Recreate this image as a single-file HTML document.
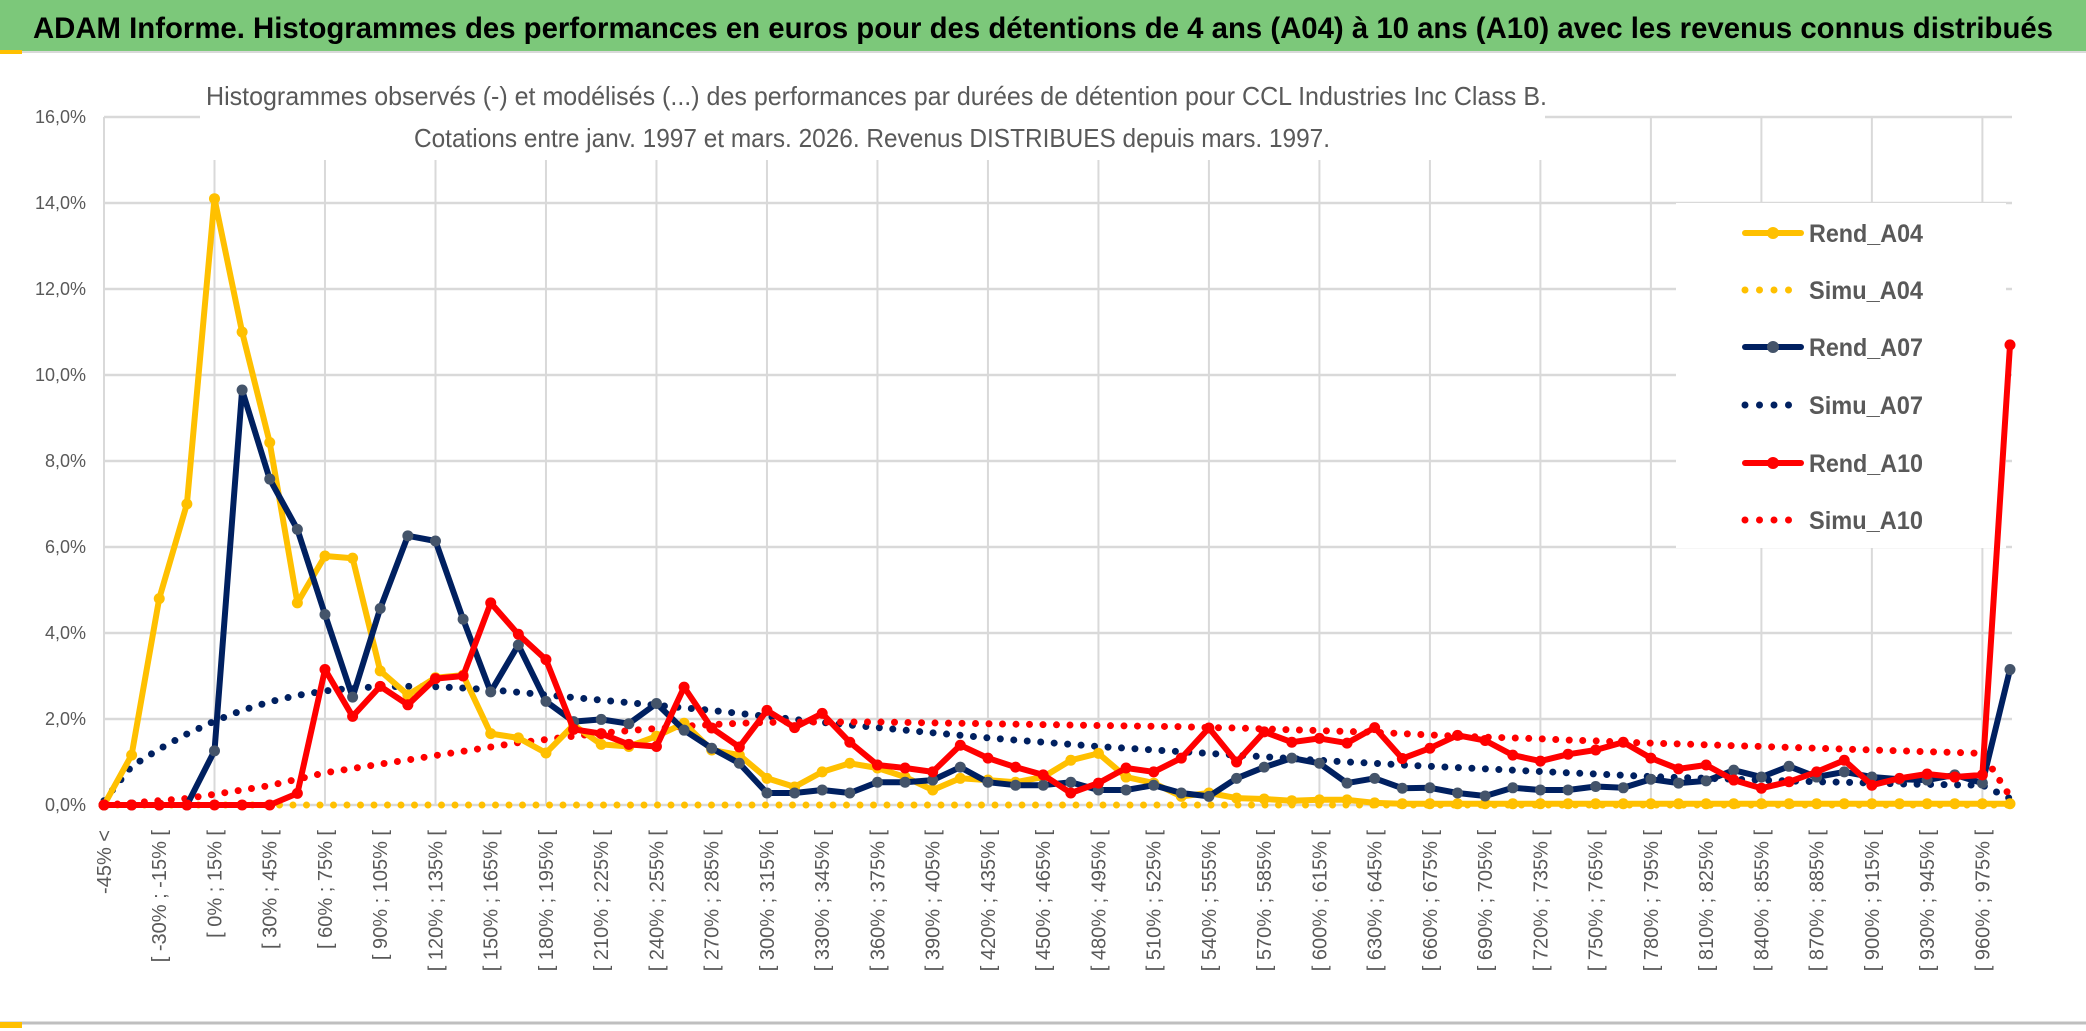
<!DOCTYPE html>
<html><head><meta charset="utf-8"><style>
html,body{margin:0;padding:0;background:#fff;}
svg{display:block;font-family:"Liberation Sans",sans-serif;}
</style></head><body>
<svg id="chart" width="2086" height="1031" viewBox="0 0 2086 1031" xmlns="http://www.w3.org/2000/svg">
<rect x="0" y="0" width="2086" height="1031" fill="#fff"/>
<rect x="0" y="0" width="2086" height="51" fill="#7cc87a"/>
<line x1="0" y1="52" x2="2086" y2="52" stroke="#d9d9d9" stroke-width="2"/>
<rect x="0" y="50" width="22" height="4" fill="#ffc000"/>
<text x="33" y="38" font-size="30" font-weight="bold" fill="#000" textLength="2020" lengthAdjust="spacingAndGlyphs">ADAM Informe. Histogrammes des performances en euros pour des détentions de 4 ans (A04) à 10 ans (A10) avec les revenus connus distribués</text>
<g id="grid"></g>
<rect x="200" y="72" width="1345" height="88" fill="#fff"/>
<text x="206" y="105" font-size="26" fill="#595959" textLength="1341" lengthAdjust="spacingAndGlyphs">Histogrammes observés (-) et modélisés (...) des performances par durées de détention pour CCL Industries Inc Class B.</text>
<text x="414" y="147" font-size="26" fill="#595959" textLength="916" lengthAdjust="spacingAndGlyphs">Cotations entre janv. 1997 et mars. 2026. Revenus DISTRIBUES depuis mars. 1997.</text>
<g id="legend"></g>
<g id="series"></g>
<line x1="0" y1="1023" x2="2086" y2="1023" stroke="#bfbfbf" stroke-width="3"/>
<rect x="0" y="1022" width="22" height="6" fill="#ffc000"/>
</svg>
<script>
const yTicks = [0,2,4,6,8,10,12,14,16];
const rendA04 = [0,1.16,4.8,7.0,14.1,11.0,8.43,4.7,5.79,5.74,3.12,2.56,2.96,3.02,1.66,1.56,1.21,1.86,1.41,1.36,1.6,1.9,1.28,1.16,0.62,0.42,0.77,0.97,0.86,0.65,0.35,0.62,0.58,0.53,0.65,1.04,1.2,0.65,0.51,0.2,0.28,0.16,0.14,0.1,0.12,0.12,0.05,0.03,0.03,0.03,0.03,0.03,0.03,0.03,0.03,0.03,0.03,0.03,0.03,0.03,0.03,0.03,0.03,0.03,0.03,0.03,0.03,0.03,0.03,0.03];
const simuA04 = [0,0,0,0,0,0,0,0,0,0,0,0,0,0,0,0,0,0,0,0,0,0,0,0,0,0,0,0,0,0,0,0,0,0,0,0,0,0,0,0,0,0,0,0,0,0,0,0,0,0,0,0,0,0,0,0,0,0,0,0,0,0,0,0,0,0,0,0,0,0];
const rendA07 = [0,0,0,0,1.26,9.65,7.58,6.41,4.43,2.51,4.57,6.26,6.14,4.32,2.63,3.72,2.41,1.94,1.99,1.89,2.36,1.74,1.32,0.97,0.28,0.28,0.35,0.28,0.53,0.53,0.58,0.88,0.53,0.46,0.46,0.53,0.35,0.35,0.46,0.28,0.2,0.62,0.88,1.09,0.97,0.51,0.62,0.39,0.4,0.28,0.21,0.4,0.35,0.35,0.43,0.4,0.6,0.51,0.56,0.81,0.65,0.9,0.65,0.77,0.65,0.6,0.58,0.7,0.51,3.15];
const simuA07 = [0.1,0.9,1.3,1.65,1.95,2.2,2.4,2.55,2.65,2.72,2.75,2.76,2.75,2.72,2.68,2.62,2.56,2.5,2.44,2.38,2.32,2.26,2.2,2.13,2.06,1.99,1.92,1.86,1.8,1.74,1.68,1.62,1.56,1.51,1.46,1.41,1.36,1.32,1.28,1.24,1.2,1.16,1.12,1.08,1.04,1.0,0.97,0.93,0.9,0.87,0.84,0.81,0.78,0.75,0.72,0.69,0.66,0.64,0.62,0.6,0.58,0.56,0.54,0.53,0.51,0.49,0.48,0.47,0.46,0.15];
const rendA10 = [0,0,0,0,0,0,0,0.27,3.15,2.06,2.76,2.33,2.94,3.0,4.7,3.97,3.38,1.76,1.66,1.41,1.36,2.74,1.79,1.35,2.2,1.8,2.13,1.46,0.93,0.86,0.77,1.39,1.09,0.88,0.7,0.28,0.51,0.86,0.77,1.09,1.79,1.0,1.7,1.46,1.55,1.44,1.8,1.08,1.32,1.62,1.5,1.16,1.02,1.18,1.28,1.46,1.09,0.84,0.93,0.58,0.39,0.54,0.77,1.04,0.46,0.62,0.72,0.65,0.7,10.7];
const simuA10 = [0,0.05,0.1,0.15,0.25,0.35,0.45,0.6,0.75,0.85,0.95,1.05,1.15,1.25,1.35,1.45,1.52,1.6,1.67,1.73,1.78,1.83,1.87,1.9,1.92,1.93,1.93,1.93,1.93,1.92,1.91,1.9,1.89,1.88,1.87,1.86,1.85,1.84,1.83,1.82,1.8,1.79,1.77,1.75,1.73,1.71,1.69,1.66,1.63,1.6,1.58,1.56,1.54,1.51,1.49,1.46,1.44,1.42,1.4,1.38,1.36,1.34,1.32,1.3,1.28,1.26,1.24,1.22,1.2,0.2];
const categories = [];
for (let i = 0; i < 70; i++) {
  if (i === 0) categories.push('-45% <');
  else { const lo = -45 + (i - 1) * 15; categories.push('[ ' + lo + '% ; ' + (lo + 15) + '% ['); }
}
const NS = 'http://www.w3.org/2000/svg';
const X0 = 104, X1 = 2010, Y0 = 805, Y16 = 117;
function xs(i){ return X0 + i * (X1 - X0) / (categories.length - 1); }
function ys(v){ return Y0 - v * (Y0 - Y16) / 16; }
function mk(tag, attrs, parent){ const e = document.createElementNS(NS, tag); for (const k in attrs) e.setAttribute(k, attrs[k]); parent.appendChild(e); return e; }
const grid = document.getElementById('grid');
for (let i = 4; i < categories.length; i += 4) {
  const l = mk('line', {x1: xs(i), x2: xs(i), y1: Y16, y2: Y0, stroke: '#d9d9d9', 'stroke-width': 2}, grid);
  
  
}
mk('line', {x1: X0, x2: X0, y1: Y16, y2: Y0, stroke: '#d9d9d9', 'stroke-width': 2}, grid);
yTicks.forEach(t => {
  const l = mk('line', {x1: X0, x2: 2012, y1: ys(t), y2: ys(t), stroke: '#d9d9d9', 'stroke-width': 2.5}, grid);
  
  
  const tx = mk('text', {x: 86, y: ys(t) + 6, 'font-size': 18, fill: '#595959', 'text-anchor': 'end'}, grid);
  tx.textContent = t.toFixed(1).replace('.', ',') + '%';
  
  
});
categories.forEach((c, i) => {
  if (i % 2) return;
  const x = xs(i) + 7, y = 830;
  const tx = mk('text', {x: x, y: y, 'font-size': 20, fill: '#595959', 'text-anchor': 'end', transform: 'rotate(-90 ' + x + ' ' + y + ')'}, grid);
  tx.textContent = c;
  
  
});
const defs = [
  {name: 'Simu_A04', data: simuA04, color: '#ffc000', dotted: true},
  {name: 'Simu_A07', data: simuA07, color: '#002060', dotted: true},
  {name: 'Simu_A10', data: simuA10, color: '#ff0000', dotted: true},
  {name: 'Rend_A04', data: rendA04, color: '#ffc000', marker: '#ffc000'},
  {name: 'Rend_A07', data: rendA07, color: '#002060', marker: '#44546a'},
  {name: 'Rend_A10', data: rendA10, color: '#ff0000', marker: '#ff0000'}
];
const lg = document.getElementById('legend');
const bg = mk('rect', {x: 1676, y: 203, width: 330, height: 345, fill: '#fff'}, lg);


const legOrder = [defs[3], defs[0], defs[4], defs[1], defs[5], defs[2]];
const legY = [233, 290, 347, 405, 463, 520];
legOrder.forEach((s, k) => {
  const y = legY[k];
  const g = mk('g', {}, lg);
  
  
  const l = mk('line', {x1: 1745, x2: 1801, y1: y, y2: y, stroke: s.color, 'stroke-width': s.dotted ? 7 : 6, 'stroke-linecap': 'round'}, g);
  if (s.dotted) l.setAttribute('stroke-dasharray', '0 14.5');
  if (s.marker) mk('circle', {cx: 1773, cy: y, r: 6, fill: s.marker}, g);
  const t = mk('text', {x: 1809, y: y + 9, 'font-size': 25, fill: '#595959', 'font-weight': 'bold', textLength: 114, lengthAdjust: 'spacingAndGlyphs'}, g);
  t.textContent = s.name;
});
const seriesG = document.getElementById('series');
defs.forEach(s => {
  const pts = s.data.map((v, i) => xs(i).toFixed(1) + ',' + ys(v).toFixed(1)).join(' ');
  const pl = mk('polyline', {points: pts, fill: 'none', stroke: s.color, 'stroke-width': s.dotted ? 7 : 6, 'stroke-linejoin': 'round', 'stroke-linecap': 'round'}, seriesG);
  if (s.dotted) pl.setAttribute('stroke-dasharray', '0 13.5');
  
  
  if (s.marker) s.data.forEach((v, i) => {
    const c = mk('circle', {cx: xs(i), cy: ys(v), r: 5.5, fill: s.marker}, seriesG);
    
    
  });
});
</script>
</body></html>
